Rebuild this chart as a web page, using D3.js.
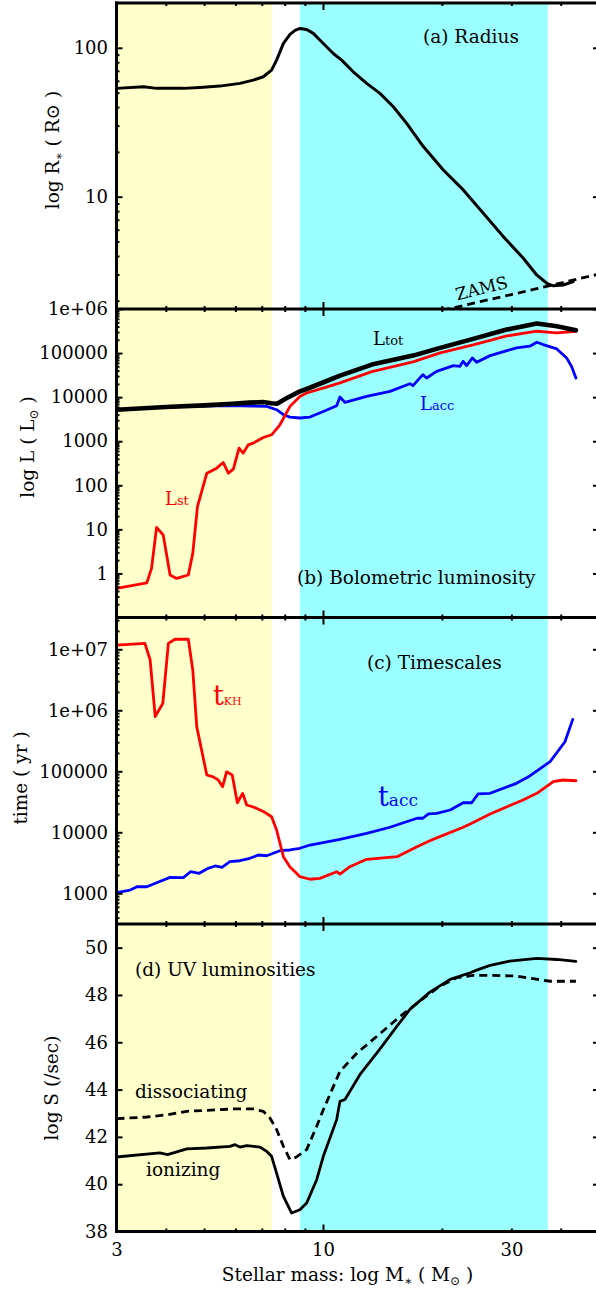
<!DOCTYPE html>
<html><head><meta charset="utf-8">
<script src="https://cdn.jsdelivr.net/npm/d3@7"></script>
<style>body{margin:0;background:#fff} svg{display:block}</style>
</head><body><svg id="c" width="596" height="1292"></svg>
<script>
// ---------------- DATA ----------------
const massTicksMajor = [10];
const massTicksMinor = [4,5,6,7,8,9,20,30,40];
const massTickLabels = [3,10,30];
const yellowBand = [3, 7.43];
const cyanBand = [8.74, 37.1];

// (a) Radius
const radiusM = [3.0,3.51,3.79,4.43,4.88,5.48,6.16,6.66,7.06,7.41,7.63,7.94,8.25,8.5,8.74,9.09,9.45,10.02,10.62,11.15,11.93,12.9,13.94,15.07,16.29,17.95,20.17,22.66,25.47,28.62,32.16,34.77,36.87,38.3,40.6,43.0];
const radiusR = [53.4,54.7,53.4,53.4,54.2,55.3,57.7,60.7,63.9,70.8,82.6,107,123,131,135,132.8,125,107,91.6,82.6,69.0,57.7,49.4,40.2,31.1,21.7,15.1,11.1,7.74,5.39,3.86,2.98,2.62,2.52,2.55,2.69];
const zamsM = [20,25,30,35,40,45,50];
const zamsR = [1.72,1.97,2.2,2.42,2.63,2.83,3.02];
const radiusTicks = [10,100];

// (b) Bolometric luminosity
const LtotM = [3.0,4.0,5.0,5.9,6.5,7.05,7.4,7.65,8.1,8.74,9.09,10.0,11.04,13.3,16.9,19.8,24.0,29.2,34.8,39.1,43.7];
const LtotV = [5180,5970,6500,7100,7500,7750,7300,7100,9550,13500,15300,21500,30700,54700,87600,131000,210000,342000,468000,406000,330000];
const LstM = [3.0,3.58,3.68,3.79,3.94,4.10,4.26,4.56,4.68,4.81,5.08,5.38,5.59,5.76,5.93,6.13,6.28,6.47,6.66,7.06,7.41,7.78,8.25,8.74,9.09,10.0,11.04,13.3,16.9,19.8,24.0,29.2,34.8,39.1,43.7];
const LstV = [0.46,0.61,1.3,11.1,7.4,0.92,0.77,0.92,2.85,32.7,188,245,328,188,232,697,537,828,905,1214,1400,2360,6170,10400,12400,16000,21000,38000,63000,101000,153000,245000,313000,288000,313000];
const LaccM = [3.0,4.0,5.0,5.9,6.65,7.20,7.63,7.94,8.25,8.74,9.27,10.02,10.83,11.04,11.37,12.9,14.78,16.6,16.9,17.9,18.3,19.4,21.4,22.2,22.65,23.1,23.9,24.5,26.5,30.9,33.4,34.8,36.1,39.1,41.4,42.6,43.7];
const LaccV = [5180,5960,6300,6400,6300,6150,5180,3990,3530,3360,3530,4740,6380,10070,7590,10400,13500,20200,18200,32400,27200,38500,51900,50000,65000,51900,77600,61700,87500,131000,143000,176000,156000,124000,77600,50000,27200];
const lumTicks = [1,10,100,1000,10000,100000,1e6];

// (c) Timescales
const tKHM = [3.0,3.54,3.65,3.76,3.93,4.06,4.22,4.56,4.68,4.79,4.93,5.08,5.27,5.43,5.57,5.70,5.89,6.07,6.26,6.41,6.66,7.06,7.41,7.63,7.94,8.25,8.57,8.74,9.27,9.82,10.83,11.04,11.7,12.9,15.4,17.3,19.0,22.65,23.8,26.5,32.1,34.8,38.3,40.6,43.7];
const tKHV = [1.17e7,1.25e7,6.7e6,7.9e5,1.3e6,1.25e7,1.46e7,1.46e7,4.6e6,5.4e5,2.2e5,8.7e4,8.1e4,7.2e4,5.6e4,9.8e4,8.7e4,3.05e4,4.35e4,2.8e4,2.6e4,2.2e4,1.8e4,1.09e4,3980,2700,2130,1870,1700,1760,2260,2070,2730,3610,3980,5810,7670,1.21e4,1.41e4,2.0e4,3.39e4,4.36e4,6.76e4,7.2e4,7.0e4];
const taccM = [3.0,3.25,3.38,3.58,3.79,4.10,4.43,4.62,4.86,5.12,5.33,5.55,5.81,6.16,6.53,6.86,7.20,7.78,8.25,8.74,9.27,11.04,12.9,14.78,17.3,17.9,18.5,19.4,21.0,22.65,23.8,24.7,26.5,30.9,33.4,37.6,41.0,42.9];
const taccV = [1023,1132,1282,1282,1493,1828,1803,2259,2128,2570,2805,2667,3296,3420,3750,4246,4130,4990,5130,5470,6190,7670,9640,1.21e4,1.70e4,1.70e4,2.0e4,2.05e4,2.32e4,3.05e4,3.05e4,4.25e4,4.36e4,6.35e4,8.4e4,1.44e5,3.05e5,7.1e5];
const timeTicks = [1000,10000,100000,1e6,1e7];

// (d) UV luminosities
const ionM = [3.0,3.86,4.04,4.52,5.08,5.81,5.99,6.16,6.41,6.92,7.20,7.41,7.63,7.94,8.33,8.74,9.09,9.64,10.02,10.83,11.04,11.37,12.4,13.9,15.4,16.6,18.65,21.0,23.6,24.5,26.5,29.7,34.8,39.1,43.7];
const ionS = [41.15,41.32,41.25,41.49,41.53,41.6,41.67,41.57,41.63,41.57,41.39,41.18,40.47,39.48,38.78,38.92,39.2,40.19,41.18,42.73,43.5,43.58,44.63,45.69,46.68,47.39,48.12,48.66,48.94,49.05,49.25,49.43,49.55,49.5,49.42];
const disM = [3.0,3.58,3.86,4.04,4.52,5.93,6.66,7.06,7.34,7.63,7.94,8.25,8.57,9.09,9.64,10.02,11.04,12.2,13.4,15.7,17.9,19.8,21.8,24.0,26.5,30.9,34.1,37.6,43.7];
const disS = [42.77,42.84,42.9,42.94,43.08,43.18,43.18,43.08,42.8,42.31,41.6,41.04,41.15,41.46,42.45,43.15,44.77,45.55,46.12,47.1,47.84,48.37,48.73,48.83,48.83,48.8,48.69,48.58,48.58];
const uvTicks = [38,40,42,44,46,48,50];

// ---------------- LAYOUT ----------------
const svg = d3.select('#c');
const X0 = 116.5, X1 = 599;
const B = [3, 309, 617.5, 924, 1231.5];
const FONT = 'DejaVu Serif';
const x = d3.scaleLog().domain([3,50]).range([X0, X1]);
const yA = d3.scaleLog().domain([1.76,200]).range([B[1],B[0]]);
const yB = d3.scaleLog().domain([0.1,1e6]).range([B[2],B[1]]);
const yC = d3.scaleLog().domain([314,3.32e7]).range([B[3],B[2]]);
const yD = d3.scaleLinear().domain([38,51]).range([B[4],B[3]]);

// bands
svg.append('rect').attr('x',x(yellowBand[0])).attr('y',B[0]).attr('width',x(yellowBand[1])-x(yellowBand[0])).attr('height',B[4]-B[0]).attr('fill','#ffffcc');
svg.append('rect').attr('x',x(cyanBand[0])).attr('y',B[0]).attr('width',x(cyanBand[1])-x(cyanBand[0])).attr('height',B[4]-B[0]).attr('fill','#9cffff');

// clip paths
const defs = svg.append('defs');
for (let i=0;i<4;i++){
  defs.append('clipPath').attr('id','cp'+i).append('rect').attr('x',X0).attr('y',B[i]).attr('width',X1-X0).attr('height',B[i+1]-B[i]);
}
function series(i, M, V, y, color, w, dash){
  const p = svg.append('path').attr('clip-path',`url(#cp${i})`)
    .datum(d3.zip(M,V))
    .attr('d', d3.line().x(d=>x(d[0])).y(d=>y(d[1])))
    .attr('fill','none').attr('stroke',color).attr('stroke-width',w)
    .attr('stroke-linejoin','round').attr('stroke-linecap', dash?'butt':'round');
  if (dash) p.attr('stroke-dasharray',dash);
}
series(0, radiusM, radiusR, yA, '#000', 3);
series(0, zamsM, zamsR, yA, '#000', 2.8, '8,5');
series(1, LaccM, LaccV, yB, '#0000ff', 2.8);
series(1, LstM, LstV, yB, '#ff0000', 2.8);
series(1, LtotM, LtotV, yB, '#000', 4.6);
series(2, taccM, taccV, yC, '#0000ff', 2.8);
series(2, tKHM, tKHV, yC, '#ff0000', 2.8);
series(3, disM, disS, yD, '#000', 2.8, '8,5');
series(3, ionM, ionS, yD, '#000', 2.8);

// ---------------- AXES ----------------
function styleAxis(g){
  g.select('.domain').remove();
  g.selectAll('line').attr('stroke','#000').attr('stroke-width',2);
  g.selectAll('text').attr('font-family',FONT).attr('font-size',18).attr('fill','#000');
}
function logMinors(lo, hi){
  const out=[];
  for (let e=Math.floor(Math.log10(lo)); e<=Math.ceil(Math.log10(hi)); e++){
    for (let m=2;m<=9;m++){ const v=m*Math.pow(10,e); if (v>lo && v<hi) out.push(v); }
  }
  return out;
}
function yAxes(y, majors, fmt, minors){
  svg.append('g').attr('transform',`translate(${X0},0)`)
    .call(d3.axisLeft(y).tickValues(majors).tickSize(-6).tickPadding(8.5).tickFormat(fmt)).call(styleAxis);
  svg.append('g').attr('transform',`translate(${X1},0)`)
    .call(d3.axisRight(y).tickValues(majors).tickSize(-6).tickFormat('')).call(styleAxis);
  if (minors){
    svg.append('g').attr('transform',`translate(${X0},0)`)
      .call(d3.axisLeft(y).tickValues(minors).tickSize(-3).tickFormat('')).call(styleAxis);
    svg.append('g').attr('transform',`translate(${X1},0)`)
      .call(d3.axisRight(y).tickValues(minors).tickSize(-3).tickFormat('')).call(styleAxis);
  }
}
const fmtPlain = d => String(d);
const fmtE = d => d >= 1e6 ? ('1e+0' + Math.round(Math.log10(d))) : String(d);
yAxes(yA, radiusTicks, fmtPlain, logMinors(1.76,200));
yAxes(yB, lumTicks, fmtE, logMinors(0.1,1e6));
yAxes(yC, timeTicks, fmtE, logMinors(314,3.32e7));
yAxes(yD, uvTicks, fmtPlain, null);

// x ticks on every panel boundary
B.forEach((yb, i) => {
  if (i > 0) {
    svg.append('g').attr('transform',`translate(0,${yb})`).call(d3.axisTop(x).tickValues(massTicksMinor).tickSize(3).tickFormat('')).call(styleAxis);
    svg.append('g').attr('transform',`translate(0,${yb})`).call(d3.axisTop(x).tickValues(massTicksMajor).tickSize(7).tickFormat('')).call(styleAxis);
  }
  if (i < B.length-1) {
    svg.append('g').attr('transform',`translate(0,${yb})`).call(d3.axisBottom(x).tickValues(massTicksMinor).tickSize(3).tickFormat('')).call(styleAxis);
    svg.append('g').attr('transform',`translate(0,${yb})`).call(d3.axisBottom(x).tickValues(massTicksMajor).tickSize(7).tickFormat('')).call(styleAxis);
  }
});
svg.append('g').attr('transform',`translate(0,${B[4]})`)
  .call(d3.axisBottom(x).tickValues(massTickLabels).tickSize(0).tickPadding(11.5).tickFormat(d=>String(d))).call(styleAxis);

// frame
B.forEach(yb => svg.append('line').attr('x1',X0-1.5).attr('x2',X1+2).attr('y1',yb).attr('y2',yb).attr('stroke','#000').attr('stroke-width',3));
svg.append('line').attr('x1',X0).attr('x2',X0).attr('y1',B[0]-1.5).attr('y2',B[4]+1.5).attr('stroke','#000').attr('stroke-width',3);
svg.append('line').attr('x1',X1).attr('x2',X1).attr('y1',B[0]).attr('y2',B[4]).attr('stroke','#000').attr('stroke-width',3);

// ---------------- TEXT ----------------
function txt(px, py, parts, o){
  o = o || {};
  const t = svg.append('text').attr('font-family',FONT).attr('fill',o.fill||'#000').attr('font-size',o.size||18.5);
  if (o.transform) t.attr('transform',o.transform); else t.attr('x',px).attr('y',py);
  if (o.anchor) t.attr('text-anchor',o.anchor);
  parts.forEach(p => {
    if (typeof p === 'string') { t.append('tspan').text(p); return; }
    const s = t.append('tspan').text(p.t);
    if (p.size) s.attr('font-size',p.size);
    if (p.dy) s.attr('dy',p.dy);
  });
  return t;
}
txt(423, 43, ['(a) Radius']);
txt(0,0,['ZAMS'],{size:17, anchor:'middle', transform:'translate(483,294) rotate(-14)'});
txt(297, 584, ['(b) Bolometric luminosity']);
txt(367, 669, ['(c) Timescales']);
txt(135, 976, ['(d) UV luminosities']);
txt(135, 1098, ['dissociating']);
txt(146, 1176, ['ionizing']);

txt(373, 345, [{t:'L',size:18},{t:'tot',size:13}], {fill:'#000'});
txt(420, 410, [{t:'L',size:18},{t:'acc',size:13}], {fill:'#0000ff'});
txt(165, 505, [{t:'L',size:18},{t:'st',size:13}], {fill:'#ff0000'});
txt(213, 705, [{t:'t',size:27},{t:'KH',size:11}], {fill:'#ff0000'});
txt(378, 806, [{t:'t',size:27},{t:'acc',size:17}], {fill:'#0000ff'});

// axis titles
txt(0,0,['log R',{t:'∗',size:12,dy:4},{t:' ( R⊙ )',dy:-4}],{anchor:'middle',transform:'translate(59,150) rotate(-90)'});
txt(0,0,['log L ( L',{t:'⊙',size:12,dy:4},{t:' )',dy:-4}],{anchor:'middle',transform:'translate(34,447) rotate(-90)'});
txt(0,0,['time ( yr )'],{anchor:'middle',transform:'translate(27,778) rotate(-90)'});
txt(0,0,['log S (/sec)'],{anchor:'middle',transform:'translate(58,1088) rotate(-90)'});
txt(347.5, 1281, ['Stellar mass: log M',{t:'∗',size:12,dy:4},{t:' ( M',dy:-4},{t:'⊙',size:12,dy:4},{t:' )',dy:-4}],{anchor:'middle'});
</script></body></html>
